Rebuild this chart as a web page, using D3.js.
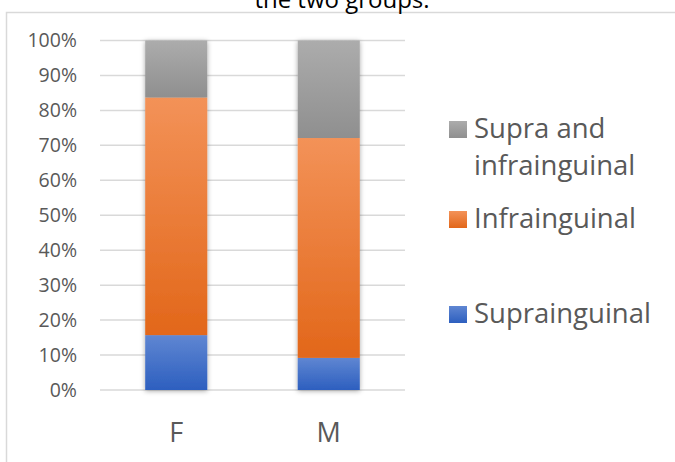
<!DOCTYPE html>
<html>
<head>
<meta charset="utf-8">
<script src="https://cdn.jsdelivr.net/npm/d3@7"></script>
<style>
  body { margin: 0; background: #fff; }
  #chart { width: 675px; height: 462px; }
  text { font-family: "Open Sans", "Liberation Sans", sans-serif; }
</style>
</head>
<body>
<div id="chart"></div>
<script>
// data (percent of each group)
const groups = ["F", "M"];
const seriesNames = ["Suprainguinal", "Infrainguinal", "Supra and infrainguinal"];
const supra = [15.7, 9.2];
const infra = [68.0, 62.9];
const both = [16.3, 27.9];
const tickValues = [0, 10, 20, 30, 40, 50, 60, 70, 80, 90, 100];

const gradStops = {
  "Suprainguinal": ["#5f86d2", "#2d5fbf"],
  "Infrainguinal": ["#f39258", "#e2671a"],
  "Supra and infrainguinal": ["#acacac", "#8f8f8f"],
};

const width = 675, height = 462;
const margin = { left: 100, right: 270, top: 40.5, bottom: 72 };
const innerW = width - margin.left - margin.right;
const innerH = height - margin.top - margin.bottom;

const svg = d3.select("#chart").append("svg")
  .attr("width", width).attr("height", height);

const defs = svg.append("defs");
Object.entries(gradStops).forEach(([k, c], i) => {
  const g = defs.append("linearGradient").attr("id", "grad" + i)
    .attr("x1", 0).attr("y1", 0).attr("x2", 0).attr("y2", 1);
  g.append("stop").attr("offset", "0%").attr("stop-color", c[0]);
  g.append("stop").attr("offset", "100%").attr("stop-color", c[1]);
});
const shadow = defs.append("filter").attr("id", "shadow")
  .attr("x", "-30%").attr("y", "-10%").attr("width", "160%").attr("height", "120%");
shadow.append("feDropShadow").attr("dx", 0).attr("dy", 1)
  .attr("stdDeviation", 2.5).attr("flood-color", "#000").attr("flood-opacity", 0.35);

// outer frame (runs past the right and bottom edges)
svg.append("rect")
  .attr("x", 6.5).attr("y", 12.5).attr("width", 700).attr("height", 460)
  .attr("fill", "none").attr("stroke", "#d9d9d9").attr("stroke-width", 1.5);

// cut-off title
svg.append("text")
  .attr("x", 342).attr("y", 8)
  .attr("text-anchor", "middle")
  .attr("font-size", 24)
  .attr("fill", "#000")
  .text("the two groups.");

const main = svg.append("g")
  .attr("transform", `translate(${margin.left},${margin.top})`);

const x = d3.scaleBand().domain(groups).range([0, innerW])
  .paddingInner(0.593).paddingOuter(0.2965);
const y = d3.scaleLinear().domain([0, 100]).range([innerH, 0]);

// grid
main.append("g").selectAll("line").data(tickValues).join("line")
  .attr("x1", 0).attr("x2", innerW)
  .attr("y1", d => y(d)).attr("y2", d => y(d))
  .attr("stroke", "#d9d9d9").attr("stroke-width", 1.5);

// y axis labels
const yAxis = d3.axisLeft(y).tickValues(tickValues)
  .tickFormat(d => d + "%").tickSize(0).tickPadding(23);
const ya = main.append("g").call(yAxis);
ya.select(".domain").remove();
ya.selectAll("text").attr("font-size", 19.5).attr("fill", "#595959")
  .attr("font-family", "'Open Sans', sans-serif");

// stacked data
const rows = groups.map((g, i) => ({
  group: g,
  "Suprainguinal": supra[i],
  "Infrainguinal": infra[i],
  "Supra and infrainguinal": both[i],
}));
const stack = d3.stack().keys(seriesNames)(rows);

const bars = main.append("g").attr("filter", "url(#shadow)");
stack.forEach((layer, li) => {
  bars.selectAll(".s" + li).data(layer).join("rect")
    .attr("class", "s" + li)
    .attr("x", d => x(d.data.group))
    .attr("width", x.bandwidth())
    .attr("y", d => y(d[1]))
    .attr("height", d => y(d[0]) - y(d[1]))
    .attr("fill", `url(#grad${li})`);
});

// x axis labels
const xAxis = d3.axisBottom(x).tickSize(0).tickPadding(0);
const xa = main.append("g").attr("transform", `translate(0,${innerH})`).call(xAxis);
xa.select(".domain").remove();
xa.selectAll("text").attr("font-size", 27).attr("fill", "#595959")
  .attr("font-family", "'Open Sans', sans-serif")
  .attr("dy", null).attr("y", 52);

// legend
const legendItems = [
  { lines: ["Supra and", "infrainguinal"], base: 138, gi: 2 },
  { lines: ["Infrainguinal"], base: 228, gi: 1 },
  { lines: ["Suprainguinal"], base: 323, gi: 0 },
];
const lg = svg.append("g");
legendItems.forEach(it => {
  lg.append("rect").attr("x", 449).attr("y", it.base - 17)
    .attr("width", 18).attr("height", 17)
    .attr("fill", `url(#grad${it.gi})`);
  const t = lg.append("text").attr("x", 474).attr("y", it.base)
    .attr("font-size", 27.5).attr("fill", "#595959");
  it.lines.forEach((l, j) => {
    t.append("tspan").attr("x", 474).attr("y", it.base + j * 37).text(l);
  });
});
</script>
</body>
</html>
